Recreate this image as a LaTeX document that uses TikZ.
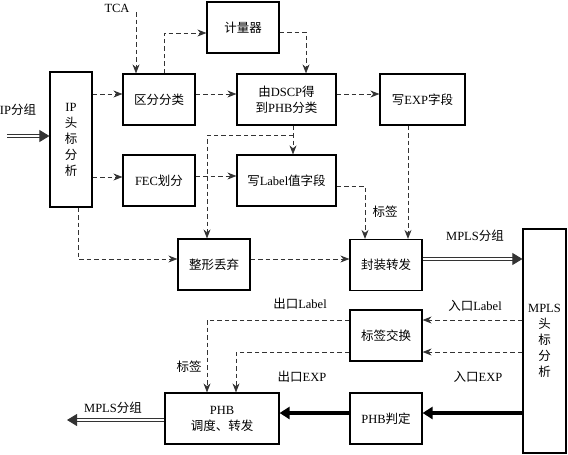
\documentclass[tikz,border=0pt]{standalone}
\usepackage{fontspec}
\setmainfont{Liberation Serif}
\newfontfamily\cjk{Noto Sans CJK SC}
\newcommand{\zh}[1]{{\cjk #1}}
\usetikzlibrary{arrows.meta}
\begin{document}
\begin{tikzpicture}[x=1pt, y=-1pt,
        font=\fontsize{12.5}{16}\selectfont,
        box/.style={draw, line width=1.2pt, minimum width=72pt, minimum height=51pt, inner sep=0pt, align=center},
        dsh/.style={draw=black!80, dash pattern=on 4.5pt off 3pt, line width=0.75pt, -{Stealth[length=9pt, width=7pt]}},
        dbl/.style={draw=black!80, double, double distance=2pt, line width=0.9pt, -{Triangle[length=10pt, width=12pt]}},
        thk/.style={line width=3.8pt, -{Triangle[length=10pt, width=12pt]}}]
        \useasboundingbox (0,0) rectangle (568,455);

        % ---boxes, upper part
        \node[box, minimum width=42pt, minimum height=135pt] (ip) at (71,139.5) {IP\\\zh{头}\\\zh{标}\\\zh{分}\\\zh{析}};
        \node[box] (qf) at (159,99.5) {\zh{区分分类}};
        \node[box] (fec) at (159,180.5) {FEC\zh{划分}};
        \node[box] (jlq) at (243,27.5) {\zh{计量器}};
        \node[box, minimum width=99pt] (dscp) at (286.5,99.5) {\zh{由}DSCP\zh{得}\\\zh{到}PHB\zh{分类}};
        \node[box, minimum width=85pt] (exp) at (422.5,99.5) {\zh{写}EXP\zh{字段}};
        \node[box, minimum width=99pt] (lbl) at (286.5,180.5) {\zh{写}Label\zh{值字段}};
        \node[box] (zx) at (214,264.5) {\zh{整形丢弃}};
        \node[box] (fz) at (386,265) {\zh{封装转发}};

        % ---boxes, lower part
        \node[box, minimum width=43pt, minimum height=224pt] (mpls) at (544.5,341) {MPLS\\\zh{头}\\\zh{标}\\\zh{分}\\\zh{析}};
        \node[box] (bq) at (386,335.5) {\zh{标签交换}};
        \node[box] (pd) at (386,418.5) {PHB\zh{判定}};
        \node[box, minimum width=114pt] (dd) at (222,418.5) {PHB\\\zh{调度、转发}};

        % ---free ends
        \coordinate (ipin) at (7,136);
        \coordinate (tca) at (136,12);
        \coordinate (br) at (293,135);
        \coordinate (mout) at (67,420);

        % ---labels
        \node (tTCA) at (117,8) {TCA};
        \node (tIP) at (18,110) {IP\zh{分组}};
        \node (tbq1) at (385,212) {\zh{标签}};
        \node (tmp1) at (475,236) {MPLS\zh{分组}};
        \node (tinl) at (475,306) {\zh{入口}Label};
        \node (tine) at (478,377) {\zh{入口}EXP};
        \node (toutl) at (300,304) {\zh{出口}Label};
        \node (toute) at (302,377) {\zh{出口}EXP};
        \node (tbq2) at (189,367) {\zh{标签}};
        \node (tmp2) at (113,408) {MPLS\zh{分组}};

        % ---upper connectors
        \draw[dbl] (ipin) -- (ip.west |- ipin);
        \draw[dsh] (tca) -- (qf.north -| tca);
        \draw[dsh] (ip.east |- 0,94) -- (qf.west |- 0,94);
        \draw[dsh] (ip.east |- 0,177) -- (fec.west |- 0,177);
        \draw[dsh] (qf.north -| 164,0) |- (jlq.west |- 0,33);
        \draw[dsh] (jlq.east |- 0,32) -| (dscp.north -| 306,0);
        \draw[dsh] (qf.east |- 0,94) -- (dscp.west |- 0,94);
        \draw[dsh] (dscp.east |- 0,94) -- (exp.west |- 0,94);
        \draw[dsh] (fec.east |- 0,176) -- (lbl.west |- 0,176);
        \draw[dsh] (dscp.south -| br) -- (lbl.north -| br);
        \draw[dsh] (br) -| (zx.north -| 207,0);
        \draw[dsh] (ip.south -| 78,0) |- (zx.west |- 0,259);
        \draw[dsh] (zx.east |- 0,259) -- (fz.west |- 0,259);
        \draw[dsh] (lbl.east |- 0,186) -| (fz.north -| 365,0);
        \draw[dsh] (exp.south -| 408,0) -- (fz.north -| 408,0);
        \draw[dbl] (fz.east |- 0,259) -- (mpls.west |- 0,259);

        % ---lower connectors
        \draw[dsh] (mpls.west |- 0,320) -- (bq.east |- 0,320);
        \draw[dsh] (mpls.west |- 0,352) -- (bq.east |- 0,352);
        \draw[thk] (mpls.west |- 0,413) -- (pd.east |- 0,413);
        \draw[thk] (pd.west |- 0,413) -- (dd.east |- 0,413);
        \draw[dsh] (bq.west |- 0,320) -| (dd.north -| 207,0);
        \draw[dsh] (bq.west |- 0,352) -| (dd.north -| 236,0);
        \draw[dbl] (dd.west |- mout) -- (mout);
    \end{tikzpicture}
\end{document}
